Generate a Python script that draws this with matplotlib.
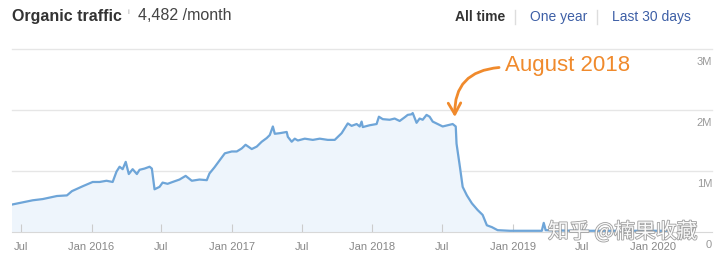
import matplotlib
matplotlib.use("Agg")
import matplotlib.pyplot as plt
import matplotlib.patheffects as pe
import numpy as np
import pandas as pd

plt.rcParams['font.family'] = ['Liberation Sans', 'Noto Sans CJK SC', 'DejaVu Sans']

# organic traffic (millions / month)
dates = [
    "2015-06-08", "2015-08-01", "2015-08-27", "2015-10-03", "2015-10-29", "2015-11-11",
    "2015-12-09", "2016-01-04", "2016-01-22", "2016-02-09", "2016-02-25", "2016-03-06",
    "2016-03-14", "2016-03-22", "2016-03-30", "2016-04-07", "2016-04-17", "2016-04-28",
    "2016-05-05", "2016-05-18", "2016-05-31", "2016-06-06", "2016-06-13", "2016-06-26",
    "2016-07-04", "2016-07-17", "2016-07-30", "2016-08-17", "2016-09-02", "2016-09-18",
    "2016-10-08", "2016-10-27", "2016-11-03", "2016-11-16", "2016-11-30", "2016-12-13",
    "2016-12-31", "2017-01-13", "2017-01-26", "2017-02-05", "2017-02-21", "2017-03-06",
    "2017-03-19", "2017-04-01", "2017-04-09", "2017-04-17", "2017-04-22", "2017-05-05",
    "2017-05-23", "2017-05-26", "2017-06-05", "2017-06-13", "2017-06-21", "2017-07-09",
    "2017-07-30", "2017-08-17", "2017-09-07", "2017-09-25", "2017-10-13", "2017-10-29",
    "2017-11-08", "2017-11-21", "2017-11-29", "2017-12-04", "2017-12-07", "2017-12-25",
    "2018-01-12", "2018-01-18", "2018-01-28", "2018-02-15", "2018-02-28", "2018-03-13",
    "2018-03-26", "2018-04-03", "2018-04-13", "2018-04-16", "2018-04-26", "2018-05-04",
    "2018-05-12", "2018-05-22", "2018-05-30", "2018-06-07", "2018-06-20", "2018-07-03",
    "2018-07-16", "2018-07-29", "2018-08-06", "2018-08-08", "2018-08-17", "2018-08-24",
    "2018-09-04", "2018-09-17", "2018-10-02", "2018-10-15", "2018-10-26", "2018-11-08",
    "2018-11-23", "2018-12-25", "2019-03-18", "2019-03-23", "2019-03-28", "2019-06-15",
    "2019-10-01", "2020-02-05",
]
traffic_m = [
    0.45, 0.52, 0.54, 0.59, 0.60, 0.67,
    0.75, 0.82, 0.82, 0.84, 0.82, 0.99,
    1.07, 1.03, 1.15, 0.95, 1.03, 0.95,
    1.02, 1.04, 1.07, 1.04, 0.70, 0.74,
    0.81, 0.79, 0.82, 0.86, 0.92, 0.84,
    0.86, 0.85, 0.96, 1.06, 1.18, 1.29,
    1.32, 1.32, 1.37, 1.43, 1.36, 1.40,
    1.48, 1.54, 1.59, 1.73, 1.61, 1.62,
    1.64, 1.56, 1.48, 1.53, 1.50, 1.53,
    1.51, 1.53, 1.51, 1.51, 1.62, 1.78,
    1.74, 1.77, 1.73, 1.81, 1.72, 1.75,
    1.77, 1.89, 1.85, 1.84, 1.86, 1.82,
    1.88, 1.92, 1.93, 1.95, 1.79, 1.86,
    1.84, 1.92, 1.89, 1.81, 1.77, 1.73,
    1.75, 1.77, 1.73, 1.45, 1.06, 0.74,
    0.60, 0.47, 0.36, 0.28, 0.11, 0.08,
    0.03, 0.02, 0.02, 0.15, 0.03, 0.02,
    0.02, 0.02,
]

tick_dates = ["2015-07-01", "2016-01-01", "2016-07-01", "2017-01-01", "2017-07-01",
              "2018-01-01", "2018-07-01", "2019-01-01", "2019-07-01", "2020-01-01"]
tick_labels = ["Jul", "Jan 2016", "Jul", "Jan 2017", "Jul",
               "Jan 2018", "Jul", "Jan 2019", "Jul", "Jan 2020"]
y_ticks = [0, 1e6, 2e6, 3e6]
y_labels = ["0", "1M", "2M", "3M"]

x = pd.to_datetime(dates)
y = np.array(traffic_m) * 1e6

fig = plt.figure(figsize=(7.2, 2.62), dpi=100)
ax = fig.add_axes([12 / 720, 30 / 262, 700 / 720, 183 / 262])

ax.fill_between(x, y, color='#eef5fc', zorder=1)
ax.plot(x, y, color='#6ea5d8', lw=1.6, zorder=3)

ax.set_xlim(pd.Timestamp("2015-06-08"), pd.Timestamp("2020-06-03"))
ax.set_ylim(0, 3e6)

# grid lines + labels sitting under them on the right
for v, lab in zip(y_ticks, y_labels):
    if v > 0:
        ax.axhline(v, color='#e6e6e6', lw=1, zorder=0, clip_on=False)
    ax.annotate(lab, xy=(1, v), xycoords=('axes fraction', 'data'), xytext=(0, -6),
                textcoords='offset points', ha='right', va='top', fontsize=8, color='#999999')

for s in ['top', 'left', 'right']:
    ax.spines[s].set_visible(False)
ax.spines['bottom'].set_color('#d8d8d8')
ax.set_yticks([])
ax.set_xticks(pd.to_datetime(tick_dates))
ax.set_xticklabels(tick_labels)
ax.tick_params(axis='x', direction='in', length=6, color='#cccccc',
               labelsize=8, labelcolor='#888888', pad=7)

# annotation
orange = '#f08a2c'
ax.annotate('', xy=(pd.Timestamp("2018-08-04"), 1.84e6),
            xytext=(pd.Timestamp("2018-12-04"), 2.70e6),
            arrowprops=dict(arrowstyle='->,head_length=0.8,head_width=0.45', color=orange,
                            lw=2, connectionstyle='arc3,rad=0.5'),
            annotation_clip=False)
fig.text(505 / 720, 1 - 65 / 262, "August 2018", fontsize=16, color=orange, va='center')

# header
fig.text(12 / 720, 1 - 16 / 262, "Organic traffic", fontsize=11.5, fontweight='bold',
         color='#333333', va='center')
fig.text(127 / 720, 1 - 12 / 262, "i", fontsize=6, color='#aaaaaa', va='center')
fig.text(138 / 720, 1 - 16 / 262, "4,482 /month", fontsize=11.5, color='#444444', va='center')
fig.text(455 / 720, 1 - 17 / 262, "All time", fontsize=10, fontweight='bold',
         color='#333333', va='center')
fig.text(530 / 720, 1 - 17 / 262, "One year", fontsize=10, color='#3d5fa6', va='center')
fig.text(612 / 720, 1 - 17 / 262, "Last 30 days", fontsize=10, color='#3d5fa6', va='center')
for sx in [515, 597]:
    fig.add_artist(plt.Line2D([sx / 720, sx / 720], [1 - 10 / 262, 1 - 24 / 262],
                              color='#dddddd', lw=1))

# watermark
fig.text(548 / 720, 1 - 232 / 262, "知乎 @楠果收藏", fontsize=15, color='white', va='center',
         family=['Noto Sans CJK SC', 'DejaVu Sans'], alpha=0.95,
         path_effects=[pe.withStroke(linewidth=1.2, foreground='#9a9a9a')])

fig.savefig("out.png", dpi=100)
